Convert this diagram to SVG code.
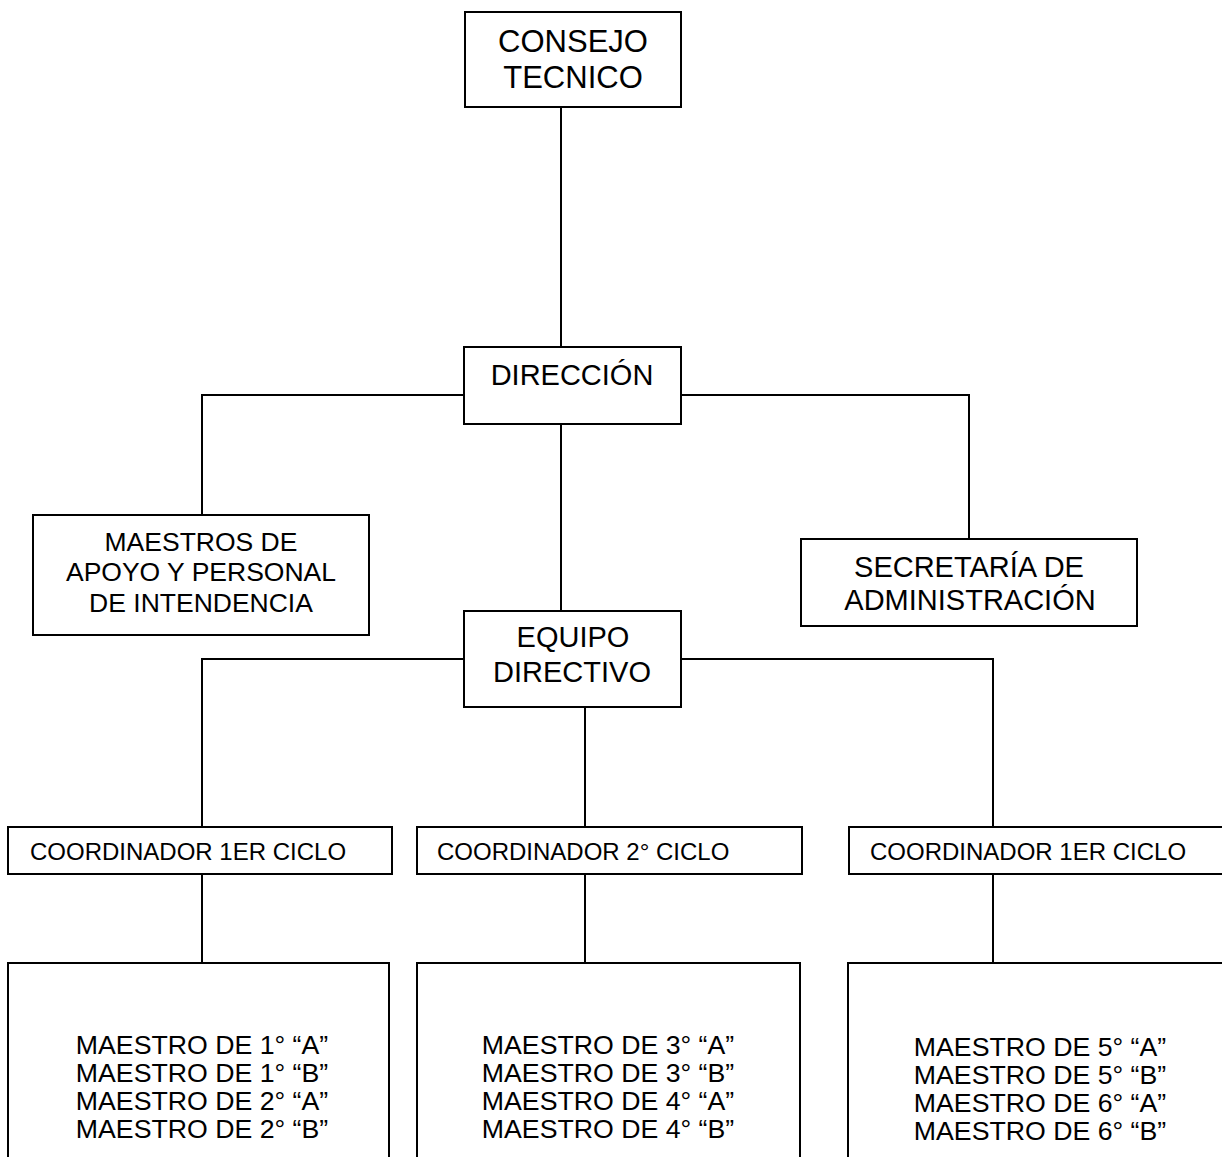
<svg xmlns="http://www.w3.org/2000/svg" width="1222" height="1157" viewBox="0 0 1222 1157">
<style>
rect{fill:#fff;stroke:#000;stroke-width:2}
.c line{stroke:#000;stroke-width:2}
text{font-family:"Liberation Sans",Arial,sans-serif;fill:#000;text-anchor:middle}
.t{font-size:31px}
.l{font-size:29px}
.m{font-size:26.5px}
.s{font-size:24px;text-anchor:start}
.b{font-size:26.7px}
</style>
<rect x="0" y="0" width="1222" height="1157" style="fill:#fff;stroke:none"/>
<g class="c" id="connectors">
<line x1="561" y1="107" x2="561" y2="347"/>
<line x1="202" y1="395" x2="464" y2="395"/>
<line x1="681" y1="395" x2="969" y2="395"/>
<line x1="202" y1="394" x2="202" y2="515"/>
<line x1="969" y1="394" x2="969" y2="539"/>
<line x1="561" y1="424" x2="561" y2="611"/>
<line x1="202" y1="659" x2="464" y2="659"/>
<line x1="681" y1="659" x2="993" y2="659"/>
<line x1="202" y1="658" x2="202" y2="827"/>
<line x1="993" y1="658" x2="993" y2="827"/>
<line x1="585" y1="707" x2="585" y2="827"/>
<line x1="202" y1="874" x2="202" y2="963"/>
<line x1="585" y1="874" x2="585" y2="963"/>
<line x1="993" y1="874" x2="993" y2="963"/>
</g>
<g id="consejo"><rect x="465" y="12" width="216" height="95"/><text class="t" x="573" y="52">CONSEJO</text><text class="t" x="573" y="88">TECNICO</text></g>
<g id="direccion"><rect x="464" y="347" width="217" height="77"/><text class="l" x="572" y="385">DIRECCIÓN</text></g>
<g id="maestros-apoyo"><rect x="33" y="515" width="336" height="120"/><text class="m" x="201" y="551">MAESTROS DE</text><text class="m" x="201" y="581">APOYO Y PERSONAL</text><text class="m" x="201" y="612">DE INTENDENCIA</text></g>
<g id="secretaria"><rect x="801" y="539" width="336" height="87"/><text class="l" x="969" y="577">SECRETARÍA DE</text><text class="l" x="970" y="610">ADMINISTRACIÓN</text></g>
<g id="equipo"><rect x="464" y="611" width="217" height="96"/><text class="l" x="573" y="647">EQUIPO</text><text class="l" x="572" y="682">DIRECTIVO</text></g>
<g id="coord1"><rect x="8" y="827" width="384" height="47"/><text class="s" x="30" y="860">COORDINADOR 1ER CICLO</text></g>
<g id="coord2"><rect x="417" y="827" width="385" height="47"/><text class="s" x="437" y="860">COORDINADOR 2° CICLO</text></g>
<g id="coord3"><rect x="849" y="827" width="380" height="47"/><text class="s" x="870" y="860">COORDINADOR 1ER CICLO</text></g>
<g id="grupo1"><rect x="8" y="963" width="381" height="210"/><text class="b" x="202" y="1054">MAESTRO DE 1° “A”</text><text class="b" x="202" y="1082">MAESTRO DE 1° “B”</text><text class="b" x="202" y="1110">MAESTRO DE 2° “A”</text><text class="b" x="202" y="1138">MAESTRO DE 2° “B”</text></g>
<g id="grupo2"><rect x="417" y="963" width="383" height="210"/><text class="b" x="608" y="1054">MAESTRO DE 3° “A”</text><text class="b" x="608" y="1082">MAESTRO DE 3° “B”</text><text class="b" x="608" y="1110">MAESTRO DE 4° “A”</text><text class="b" x="608" y="1138">MAESTRO DE 4° “B”</text></g>
<g id="grupo3"><rect x="848" y="963" width="380" height="210"/><text class="b" x="1040" y="1056">MAESTRO DE 5° “A”</text><text class="b" x="1040" y="1084">MAESTRO DE 5° “B”</text><text class="b" x="1040" y="1112">MAESTRO DE 6° “A”</text><text class="b" x="1040" y="1140">MAESTRO DE 6° “B”</text></g>
</svg>
